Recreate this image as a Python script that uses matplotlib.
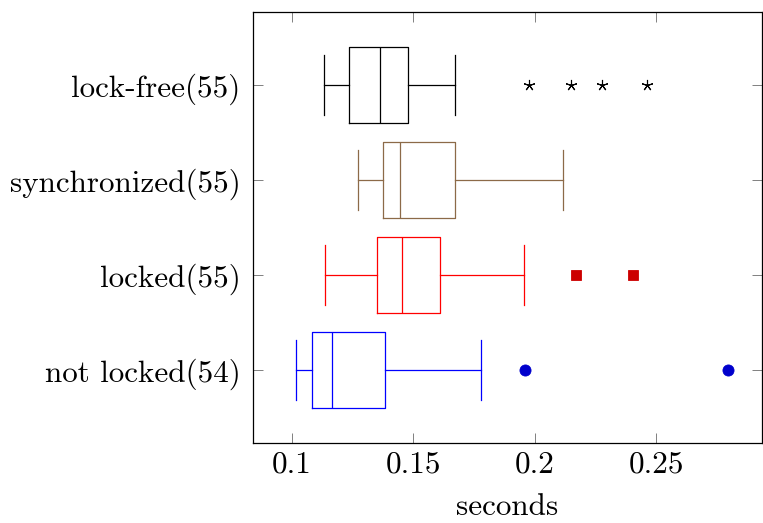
import matplotlib
matplotlib.use("Agg")
import matplotlib.pyplot as plt

plt.rcParams['font.family'] = 'serif'
plt.rcParams['font.serif'] = ['cmr10']
plt.rcParams['axes.formatter.use_mathtext'] = True
plt.rcParams['mathtext.fontset'] = 'cm'

# bottom -> top
labels = ['not locked(54)', 'locked(55)', 'synchronized(55)', 'lock-free(55)']
whislo = [0.1019, 0.1136, 0.1273, 0.1132]
q1 = [0.1085, 0.1353, 0.1377, 0.1236]
med = [0.1164, 0.1456, 0.1444, 0.1365]
q3 = [0.1386, 0.1612, 0.1674, 0.1480]
whishi = [0.1780, 0.1954, 0.2115, 0.1673]
fliers = [[0.1961, 0.2794],
          [0.2171, 0.2404],
          [],
          [0.1976, 0.2151, 0.2277, 0.2461]]

colors = ['#0000ff', '#ff0000', '#8c6a48', '#000000']
flier_colors = ['#0000cc', '#cc0000', '#8c6a48', '#000000']
flier_marks = ['o', 's', 'o', (5, 2, 0)]
flier_sizes = [8, 7.5, 7, 8]
flier_mew = [0.6, 0.6, 0.6, 0.8]

fig = plt.figure(figsize=(7.63, 5.23), dpi=100)
ax = fig.add_axes([253 / 763, 80 / 523, 508.5 / 763, 431 / 523])

for i in range(len(labels)):
    stats = [dict(whislo=whislo[i], q1=q1[i], med=med[i], q3=q3[i],
                  whishi=whishi[i], fliers=fliers[i])]
    c = colors[i]
    ax.bxp(stats, positions=[i + 1], widths=0.8, capwidths=0.64, vert=False,
           boxprops=dict(color=c, lw=0.9),
           medianprops=dict(color=c, lw=0.9),
           whiskerprops=dict(color=c, lw=0.9),
           capprops=dict(color=c, lw=0.9),
           flierprops=dict(marker=flier_marks[i], markerfacecolor=flier_colors[i],
                           markeredgecolor=flier_colors[i], markersize=flier_sizes[i],
                           markeredgewidth=flier_mew[i], linestyle='none'))

ax.set_xlim(0.0841, 0.2933)
ax.set_ylim(0.232, 4.768)
ax.set_yticks([1, 2, 3, 4])
ax.set_yticklabels(labels)
ax.set_xticks([0.1, 0.15, 0.2, 0.25])
ax.set_xticklabels(['0.1', '0.15', '0.2', '0.25'])
ax.tick_params(direction='in', length=7, width=0.7, color='#808080',
               top=True, right=True, labelsize=22.4)
ax.tick_params(axis='x', pad=6)
ax.tick_params(axis='y', pad=9)
for s in ax.spines.values():
    s.set_linewidth(0.9)
ax.set_xlabel('seconds', fontsize=22.4, labelpad=11)

fig.savefig('out.png', dpi=100)
